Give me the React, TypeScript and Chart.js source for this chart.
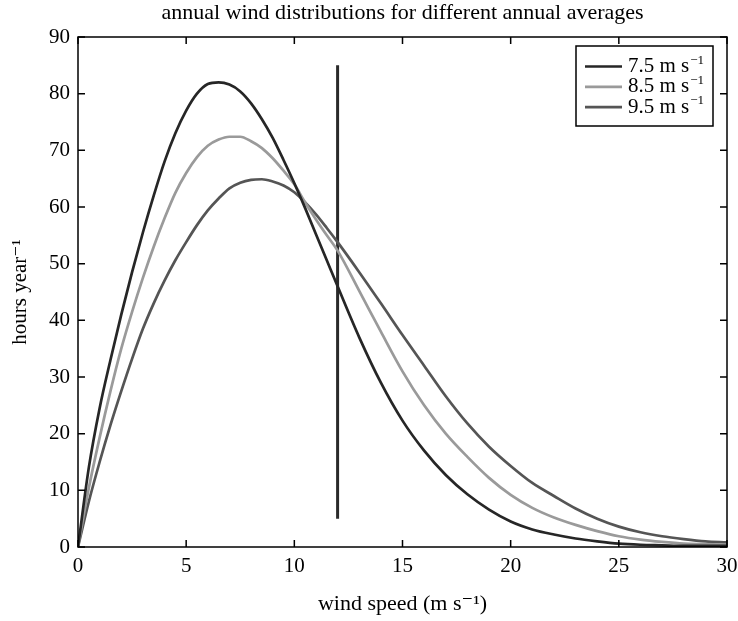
import React, { useEffect, useRef } from 'react';
import { Chart, registerables } from 'chart.js';

Chart.register(...registerables);

const SERIF = "'Liberation Serif', 'Times New Roman', 'DejaVu Serif', serif";

const chartTitle = 'annual wind distributions for different annual averages';
const xAxisTitle = 'wind speed (m s\u207B\u00B9)';
const yAxisTitle = 'hours year\u207B\u00B9';

const windSpeeds = [
  0, 0.5, 1, 1.5, 2, 2.5, 3, 3.5, 4, 4.5, 5, 5.5, 6, 6.5, 7, 7.5, 8, 8.5, 9, 9.5, 10, 10.5, 11, 11.5, 12,
  13, 14, 15, 16, 17, 18, 19, 20, 21, 22, 23, 24, 25, 26, 27, 28, 29, 30,
];

const hours75 = [
  0, 14, 24.5, 33, 41, 48.5, 55.5, 62, 68, 73, 77, 80, 81.7, 82, 81.6, 80.4, 78.3, 75.5, 72.2, 68.3, 64.2, 59.8, 55.2, 50.6, 46,
  37, 29, 22.3, 17, 12.7, 9.3, 6.6, 4.5, 3.1, 2.2, 1.5, 1, 0.6, 0.4, 0.3, 0.2, 0.2, 0.2,
];

const hours85 = [
  0, 10.4, 19.3, 27.5, 35, 41.5, 47.5, 53, 58, 62.5, 66, 68.8, 70.8, 71.9, 72.4, 72.4, 71.6, 70.4, 68.6, 66.4, 64, 60.8, 57.8, 55, 52.3,
  45.2, 38, 31, 25, 20, 15.9, 12.2, 9.2, 6.9, 5.2, 3.9, 2.8, 1.9, 1.3, 0.9, 0.6, 0.5, 0.4,
];

const hours95 = [
  0, 8, 15, 21.5, 27.5, 33.2, 38.5, 43, 47, 50.6, 53.8, 56.8, 59.4, 61.5, 63.3, 64.3, 64.8, 64.9, 64.5, 63.8, 62.6, 60.8, 58.7, 56.3, 53.8,
  48.5, 43, 37.4, 32, 26.6, 21.8, 17.7, 14.3, 11.3, 9, 6.8, 5, 3.6, 2.6, 1.9, 1.4, 1, 0.8,
];

const seriesLabels = ['7.5', '8.5', '9.5'];
const seriesColors = ['#262626', '#9a9a9a', '#555555'];

const markerSpeed = [12, 12];
const markerHours = [5, 85];

const xTicks = [0, 5, 10, 15, 20, 25, 30];
const yTicks = [0, 10, 20, 30, 40, 50, 60, 70, 80, 90];

function toPoints(xs: number[], ys: number[]) {
  return xs.map((x, i) => ({ x, y: ys[i] }));
}

function drawSup(ctx: CanvasRenderingContext2D, base: string, sup: string, x: number, y: number, size: number) {
  ctx.font = `${size}px ${SERIF}`;
  ctx.textAlign = 'left';
  ctx.textBaseline = 'middle';
  ctx.fillText(base, x, y);
  const w = ctx.measureText(base).width;
  ctx.font = `${Math.round(size * 0.62)}px ${SERIF}`;
  ctx.fillText(sup, x + w + 1, y - size * 0.3);
}

const framePlugin = {
  id: 'frameAndDecor',
  afterDraw(chart: any) {
    const { ctx, chartArea: a, scales } = chart;
    ctx.save();
    ctx.strokeStyle = '#000';
    ctx.lineWidth = 1.5;
    ctx.strokeRect(a.left, a.top, a.right - a.left, a.bottom - a.top);
    const tl = 7;
    ctx.beginPath();
    xTicks.forEach((v) => {
      const px = scales.x.getPixelForValue(v);
      ctx.moveTo(px, a.bottom);
      ctx.lineTo(px, a.bottom - tl);
      ctx.moveTo(px, a.top);
      ctx.lineTo(px, a.top + tl);
    });
    yTicks.forEach((v) => {
      const py = scales.y.getPixelForValue(v);
      ctx.moveTo(a.left, py);
      ctx.lineTo(a.left + tl, py);
      ctx.moveTo(a.right, py);
      ctx.lineTo(a.right - tl, py);
    });
    ctx.stroke();

    // title
    ctx.fillStyle = '#000';
    ctx.font = `22px ${SERIF}`;
    ctx.textAlign = 'center';
    ctx.textBaseline = 'middle';
    ctx.fillText(chartTitle, (a.left + a.right) / 2, 13);

    // legend
    const lw = 137;
    const lh = 80;
    const lx = a.right - 14 - lw;
    const ly = a.top + 9;
    ctx.fillStyle = '#fff';
    ctx.fillRect(lx, ly, lw, lh);
    ctx.strokeStyle = '#000';
    ctx.lineWidth = 1.5;
    ctx.strokeRect(lx, ly, lw, lh);
    seriesLabels.forEach((lab, i) => {
      const ry = ly + 20.5 + i * 20.3;
      ctx.strokeStyle = seriesColors[i];
      ctx.lineWidth = 2.7;
      ctx.beginPath();
      ctx.moveTo(lx + 9, ry);
      ctx.lineTo(lx + 46, ry);
      ctx.stroke();
      ctx.fillStyle = '#000';
      drawSup(ctx, `${lab} m s`, '\u2212' + '1', lx + 52, ry, 21);
    });
    ctx.restore();
  },
};

export default function App() {
  const ref = useRef<HTMLCanvasElement | null>(null);
  useEffect(() => {
    if (!ref.current) return;
    const datasets: any[] = [
      { label: seriesLabels[0] + ' m s\u207B\u00B9', data: toPoints(windSpeeds, hours75) },
      { label: seriesLabels[1] + ' m s\u207B\u00B9', data: toPoints(windSpeeds, hours85) },
      { label: seriesLabels[2] + ' m s\u207B\u00B9', data: toPoints(windSpeeds, hours95) },
    ].map((d, i) => ({
      ...d,
      borderColor: seriesColors[i],
      backgroundColor: seriesColors[i],
      borderWidth: 2.7,
      pointRadius: 0,
      cubicInterpolationMode: 'monotone',
      fill: false,
    }));
    datasets.push({
      label: 'marker',
      data: toPoints(markerSpeed, markerHours),
      borderColor: '#2a2a2a',
      borderWidth: 3,
      pointRadius: 0,
      fill: false,
    });
    const chart = new Chart(ref.current, {
      type: 'line',
      data: { datasets },
      plugins: [framePlugin],
      options: {
        animation: false,
        responsive: true,
        maintainAspectRatio: false,
        layout: { padding: { top: 37, right: 11, left: 0, bottom: 0 } },
        plugins: {
          legend: { display: false },
          title: { display: false },
          tooltip: { enabled: false },
        },
        scales: {
          x: {
            type: 'linear',
            min: 0,
            max: 30,
            afterFit: (s: any) => {
              s.height = 74;
              s.paddingLeft = 0;
              s.paddingRight = 0;
            },
            afterBuildTicks: (s: any) => { s.ticks = xTicks.map((v) => ({ value: v })); },
            grid: { display: false, drawTicks: false },
            border: { display: false },
            ticks: { color: '#000', font: { family: SERIF, size: 21 }, padding: 7, maxRotation: 0 },
            title: {
              display: true,
              text: xAxisTitle,
              color: '#000',
              font: { family: SERIF, size: 22 },
              padding: { top: 0, bottom: 4 },
            },
          },
          y: {
            type: 'linear',
            min: 0,
            max: 90,
            afterFit: (s: any) => {
              s.width = 78;
              s.paddingTop = 0;
              s.paddingBottom = 0;
            },
            afterBuildTicks: (s: any) => { s.ticks = yTicks.map((v) => ({ value: v })); },
            grid: { display: false, drawTicks: false },
            border: { display: false },
            ticks: { color: '#000', font: { family: SERIF, size: 21 }, padding: 8 },
            title: {
              display: true,
              text: yAxisTitle,
              color: '#000',
              font: { family: SERIF, size: 21 },
              padding: { top: 8, bottom: 0 },
            },
          },
        },
      },
    });
    return () => chart.destroy();
  }, []);
  return (
    <div style={{ position: 'absolute', left: 0, top: 0, width: 738, height: 621, background: '#fff' }}>
      <canvas ref={ref} />
    </div>
  );
}
